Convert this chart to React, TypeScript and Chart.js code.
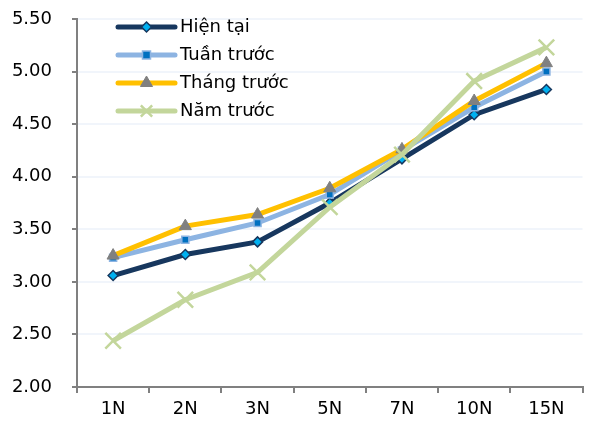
import React, { useEffect, useRef } from 'react';
import { Chart, registerables } from 'chart.js';

Chart.register(...registerables);

const categories = ['1N', '2N', '3N', '5N', '7N', '10N', '15N'];
const hienTai = [3.06, 3.26, 3.38, 3.75, 4.17, 4.59, 4.83];
const tuanTruoc = [3.23, 3.4, 3.56, 3.83, 4.25, 4.66, 5.0];
const thangTruoc = [3.25, 3.53, 3.64, 3.89, 4.26, 4.72, 5.08];
const namTruoc = [2.44, 2.83, 3.09, 3.71, 4.21, 4.91, 5.23];
const seriesNames = ['Hiện tại', 'Tuần trước', 'Tháng trước', 'Năm trước'];
const yMin = 2.0;
const yMax = 5.5;
const yStep = 0.5;

const FONT = 'DejaVu Sans';
const FONT_SIZE = 18;

function drawMarker(ctx: CanvasRenderingContext2D, style: string, x: number, y: number, r: number, bg: string, border: string, bw: number) {
  ctx.save();
  ctx.fillStyle = bg;
  ctx.strokeStyle = border;
  ctx.lineWidth = bw;
  ctx.beginPath();
  if (style === 'rectRot') {
    ctx.moveTo(x, y - r);
    ctx.lineTo(x + r, y);
    ctx.lineTo(x, y + r);
    ctx.lineTo(x - r, y);
    ctx.closePath();
    ctx.fill();
    ctx.stroke();
  } else if (style === 'rect') {
    const s = r * 0.8;
    ctx.rect(x - s, y - s, 2 * s, 2 * s);
    ctx.fill();
    ctx.stroke();
  } else if (style === 'triangle') {
    ctx.moveTo(x, y - r);
    ctx.lineTo(x + r * 0.866, y + r * 0.5);
    ctx.lineTo(x - r * 0.866, y + r * 0.5);
    ctx.closePath();
    ctx.fill();
    ctx.stroke();
  } else if (style === 'crossRot') {
    const d = r * 0.7071;
    ctx.moveTo(x - d, y - d);
    ctx.lineTo(x + d, y + d);
    ctx.moveTo(x + d, y - d);
    ctx.lineTo(x - d, y + d);
    ctx.stroke();
  }
  ctx.restore();
}

const legendPlugin = {
  id: 'insideLegend',
  afterDraw(chart: any) {
    const ctx: CanvasRenderingContext2D = chart.ctx;
    const x1 = 118;
    const x2 = 175;
    const startY = 27;
    const gap = 28;
    chart.data.datasets.forEach((ds: any, i: number) => {
      const y = startY + i * gap;
      ctx.save();
      ctx.strokeStyle = ds.borderColor;
      ctx.lineWidth = ds.borderWidth;
      ctx.lineCap = 'round';
      ctx.beginPath();
      ctx.moveTo(x1, y);
      ctx.lineTo(x2, y);
      ctx.stroke();
      ctx.restore();
      const r = ds.pointStyle === 'crossRot' ? 8 : ds.pointRadius;
      drawMarker(ctx, ds.pointStyle, (x1 + x2) / 2, y, r, ds.pointBackgroundColor, ds.pointBorderColor, ds.pointBorderWidth);
      ctx.save();
      ctx.fillStyle = '#000';
      ctx.font = `${FONT_SIZE}px "${FONT}"`;
      ctx.textBaseline = 'middle';
      ctx.textAlign = 'left';
      ctx.fillText(ds.label, 180, y);
      ctx.restore();
    });
  },
};

export default function App() {
  const ref = useRef<HTMLCanvasElement | null>(null);
  useEffect(() => {
    document.body.style.margin = '0';
    if (!ref.current) return;
    const chart = new Chart(ref.current, {
      type: 'line',
      data: {
        labels: categories,
        datasets: [
          {
            label: seriesNames[0],
            data: hienTai,
            borderColor: '#17375E',
            borderWidth: 5,
            pointStyle: 'rectRot',
            pointRadius: 5,
            pointBackgroundColor: '#00B0F0',
            pointBorderColor: '#17375E',
            pointBorderWidth: 1.5,
            tension: 0,
            order: 4,
          },
          {
            label: seriesNames[1],
            data: tuanTruoc,
            borderColor: '#8DB4E2',
            borderWidth: 5,
            pointStyle: 'rect',
            pointRadius: 5,
            pointBackgroundColor: '#0070C0',
            pointBorderColor: '#8DB4E2',
            pointBorderWidth: 1.5,
            tension: 0,
            order: 3,
          },
          {
            label: seriesNames[2],
            data: thangTruoc,
            borderColor: '#FFC000',
            borderWidth: 5,
            pointStyle: 'triangle',
            pointRadius: 7,
            pointBackgroundColor: '#808080',
            pointBorderColor: '#808080',
            pointBorderWidth: 1,
            tension: 0,
            order: 2,
          },
          {
            label: seriesNames[3],
            data: namTruoc,
            borderColor: '#C3D69B',
            borderWidth: 5,
            pointStyle: 'crossRot',
            pointRadius: 11,
            pointBackgroundColor: '#C3D69B',
            pointBorderColor: '#C3D69B',
            pointBorderWidth: 2.5,
            tension: 0,
            order: 1,
          },
        ],
      },
      options: {
        animation: false,
        responsive: false,
        maintainAspectRatio: false,
        layout: { padding: { top: 19, right: 12, left: 0, bottom: 0 } },
        plugins: {
          legend: { display: false },
          tooltip: { enabled: false },
        },
        scales: {
          x: {
            offset: true,
            grid: { drawOnChartArea: false, color: '#808080', tickLength: 6, lineWidth: 2, offset: true },
            border: { color: '#808080', width: 2 },
            ticks: { color: '#000', font: { family: FONT, size: FONT_SIZE }, padding: 6, maxRotation: 0 },
            afterFit: (s: any) => { s.height = 41; s.paddingLeft = 0; s.paddingRight = 0; },
          },
          y: {
            min: yMin,
            max: yMax,
            grid: { color: '#F1F5FB', lineWidth: 2, tickLength: 5, tickColor: '#808080' },
            border: { color: '#808080', width: 2 },
            ticks: {
              stepSize: yStep,
              color: '#000',
              font: { family: FONT, size: FONT_SIZE },
              padding: 20,
              callback: (v: any) => Number(v).toFixed(2),
            },
            afterFit: (s: any) => { s.width = 77; s.paddingTop = 0; s.paddingBottom = 0; },
          },
        },
      },
      plugins: [legendPlugin],
    });
    return () => chart.destroy();
  }, []);
  return (
    <div style={{ width: 596, height: 428 }}>
      <canvas ref={ref} width={596} height={428} style={{ display: 'block' }} />
    </div>
  );
}
